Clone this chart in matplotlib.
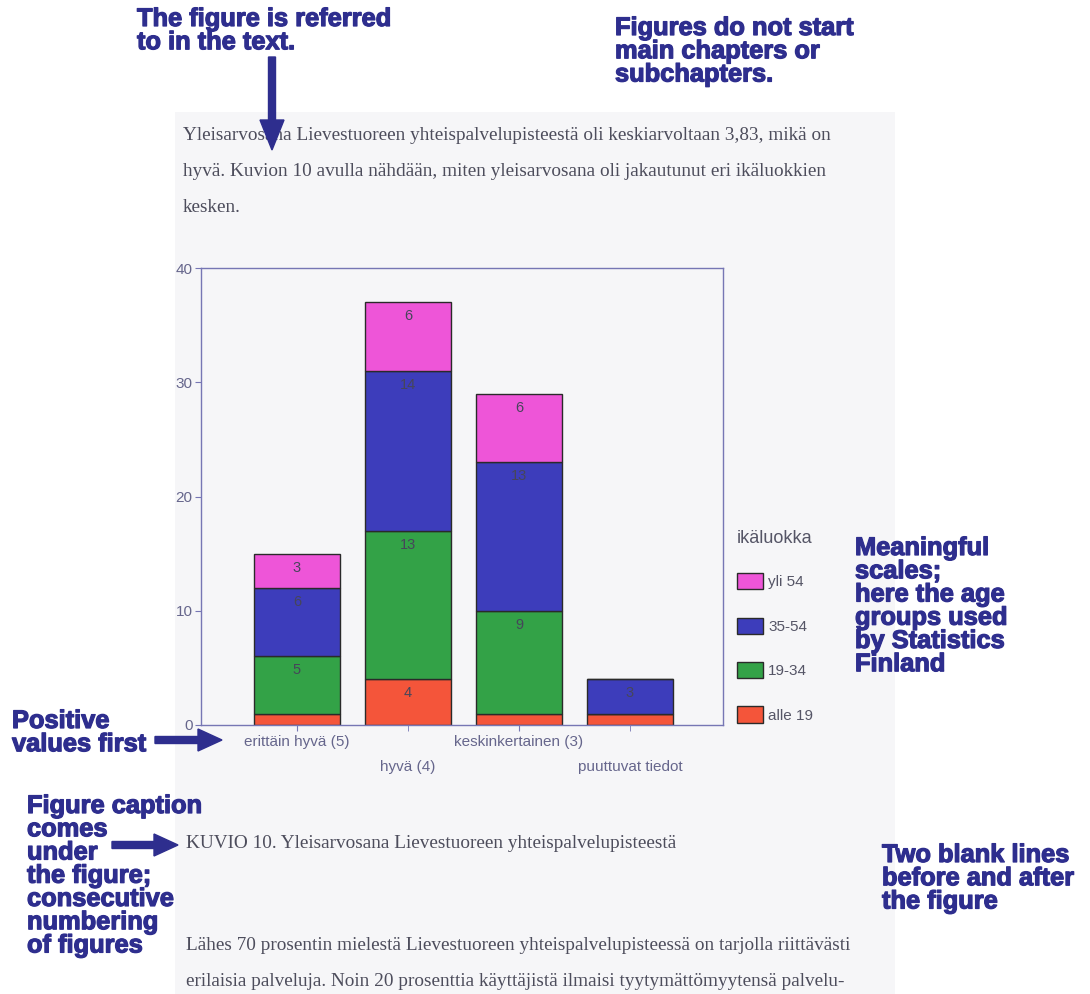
import matplotlib.pyplot as plt
import matplotlib.patheffects as pe
from matplotlib.patches import Rectangle

# chart data
categories = ['erittäin hyvä (5)', 'hyvä (4)', 'keskinkertainen (3)', 'puuttuvat tiedot']
age_groups = ['alle 19', '19-34', '35-54', 'yli 54']
alle_19 = [1, 4, 1, 1]
age_19_34 = [5, 13, 9, 0]
age_35_54 = [6, 14, 13, 3]
yli_54 = [3, 6, 6, 0]
series = [alle_19, age_19_34, age_35_54, yli_54]
colors = ['#f4553a', '#33a247', '#3d3dbb', '#ee55d8']

W, H = 1090, 994
blue = '#2e2e8e'
ink = '#4d4d5c'
axis_col = '#7676b4'
tick_col = '#66668c'


def fx(px):
    return px / W


def fy(py):
    return 1 - py / H


fig = plt.figure(figsize=(W / 100, H / 100), dpi=100)
fig.patch.set_facecolor('white')

# greyish scanned page area, behind everything
bg = fig.add_axes([0, 0, 1, 1], zorder=-10)
bg.set_xlim(0, W)
bg.set_ylim(H, 0)
bg.axis('off')
bg.add_patch(Rectangle((175, 112), 895 - 175, H - 112, facecolor='#f6f6f8', edgecolor='none'))

# --- the bar chart ---
ax = fig.add_axes([fx(201), fy(725), (723 - 201) / W, (725 - 268) / H], zorder=1)
ax.set_facecolor('none')
x = list(range(len(categories)))
bottom = [0] * len(categories)
bars = []
for vals, col, name in zip(series, colors, age_groups):
    b = ax.bar(x, vals, bottom=bottom, width=0.77, color=col,
               edgecolor='#2a2a2a', linewidth=1.0, label=name)
    bars.append(b)
    for i, v in enumerate(vals):
        if v >= 2:
            ax.annotate(str(v), (i, bottom[i] + v), xytext=(0, -14),
                        textcoords='offset pixels', ha='center', va='center',
                        fontsize=10.5, color='#46465a', family='Liberation Sans')
    bottom = [b0 + v for b0, v in zip(bottom, vals)]

ax.set_ylim(0, 40)
ax.set_xlim(-0.865, 3.838)
ax.set_yticks([0, 10, 20, 30, 40])
ax.set_xticks([0, 2], [categories[0], categories[2]])
ax.set_xticks([1, 3], [categories[1], categories[3]], minor=True)
for s in ax.spines.values():
    s.set_color(axis_col)
    s.set_linewidth(1.0)
ax.tick_params(axis='both', which='both', colors=axis_col, labelcolor=tick_col,
               labelsize=11, length=4)
ax.tick_params(axis='x', which='major', pad=3)
ax.tick_params(axis='x', which='minor', pad=21)
ax.tick_params(axis='y', pad=2)
for lbl in ax.get_xticklabels(which='both') + ax.get_yticklabels():
    lbl.set_family('Liberation Sans')

leg = ax.legend(bars[::-1], age_groups[::-1], title='ikäluokka', loc='upper left',
                bbox_to_anchor=(fx(729), fy(522)), bbox_transform=fig.transFigure,
                frameon=False, title_fontsize=13, handlelength=1.75,
                handleheight=1.25, labelspacing=1.85, handletextpad=0.3,
                borderpad=0, alignment='left', prop={'family': 'Liberation Sans', 'size': 11})
leg.get_title().set_color('#555566')
leg.get_title().set_family('Liberation Sans')
leg._legend_box.sep = 19
for t in leg.get_texts():
    t.set_color('#555566')

# --- page text and annotations, in pixel coordinates ---
ov = fig.add_axes([0, 0, 1, 1], zorder=5)
ov.set_xlim(0, W)
ov.set_ylim(H, 0)
ov.axis('off')
ov.patch.set_alpha(0)

body = dict(family='Liberation Serif', fontsize=13.9, color=ink, va='center', ha='left')
ov.text(183, 135, 'Yleisarvosana Lievestuoreen yhteispalvelupisteestä oli keskiarvoltaan 3,83, mikä on', **body)
ov.text(183, 171, 'hyvä. Kuvion 10 avulla nähdään, miten yleisarvosana oli jakautunut eri ikäluokkien', **body)
ov.text(183, 207, 'kesken.', **body)
ov.text(186, 843, 'KUVIO 10. Yleisarvosana Lievestuoreen yhteispalvelupisteestä', **body)
ov.text(186, 945, 'Lähes 70 prosentin mielestä Lievestuoreen yhteispalvelupisteessä on tarjolla riittävästi', **body)
ov.text(186, 981, 'erilaisia palveluja. Noin 20 prosenttia käyttäjistä ilmaisi tyytymättömyytensä palvelu-', **body)

note = dict(family='Liberation Sans', fontsize=18.3, fontweight='bold', color=blue,
            va='top', ha='left', linespacing=0.96,
            path_effects=[pe.withStroke(linewidth=0.9, foreground=blue)])
ov.text(137, 7, 'The figure is referred\nto in the text.', **note)
ov.text(615, 16, 'Figures do not start\nmain chapters or\nsubchapters.', **note)
ov.text(855, 536, 'Meaningful\nscales;\nhere the age\ngroups used\nby Statistics\nFinland', **note)
ov.text(12, 709, 'Positive\nvalues first', **note)
ov.text(27, 794, 'Figure caption\ncomes\nunder\nthe figure;\nconsecutive\nnumbering\nof figures', **note)
ov.text(882, 843, 'Two blank lines\nbefore and after\nthe figure', **note)

arrow = dict(width=7, head_width=24, head_length=30, length_includes_head=True,
             color=blue, zorder=6)
ov.arrow(272, 57, 0, 93, **arrow)
arrow.update(head_width=22, head_length=24)
ov.arrow(155, 740, 67, 0, **arrow)
ov.arrow(112, 845, 66, 0, **arrow)

fig.savefig('out.png', dpi=100)
